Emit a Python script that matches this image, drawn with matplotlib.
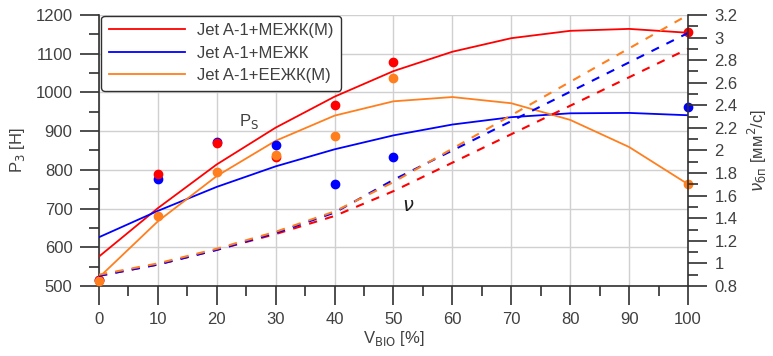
import matplotlib

matplotlib.use("Agg")
import matplotlib.pyplot as plt
from matplotlib.ticker import MultipleLocator, FuncFormatter

plt.rcParams["font.family"] = ["Liberation Sans", "DejaVu Sans"]

# measured points
x_pts = [0, 10, 20, 30, 40, 50, 100]
p_meжк_m = [515, 790, 870, 833, 967, 1079, 1156]
p_meжк = [515, 776, 873, 863, 763, 832, 963]
p_eeжк_m = [513, 681, 795, 839, 887, 1036, 763]

# trend curves (P_S)
x_curve = [0, 10, 20, 30, 40, 50, 60, 70, 80, 90, 100]
ps_meжк_m = [576, 701, 814, 909, 989, 1055, 1105, 1140, 1159, 1164, 1154]
ps_meжк = [626, 694, 756, 809, 853, 889, 917, 936, 946, 947, 941]
ps_eeжк_m = [522, 667, 784, 875, 940, 977, 988, 972, 929, 859, 763]

# viscosity (right axis)
nu_meжк_m = [0.89, 0.99, 1.12, 1.26, 1.42, 1.64, 2.90]
nu_meжк = [0.89, 0.99, 1.12, 1.27, 1.45, 1.74, 3.04]
nu_eeжк_m = [0.90, 1.00, 1.13, 1.28, 1.46, 1.72, 3.20]

labels = ["Jet A-1+МЕЖК(М)", "Jet A-1+МЕЖК", "Jet A-1+ЕЕЖК(М)"]
colors = ["#ff0000", "#0000ff", "#ff7f1e"]
text_col = "#404040"
fs = 12

fig = plt.figure(figsize=(7.73, 3.56), dpi=100)
ax = fig.add_axes([0.128, 0.1966, 0.762, 0.7614])
ax2 = ax.twinx()

handles = []
for ps, col, lab in zip([ps_meжк_m, ps_meжк, ps_eeжк_m], colors, labels):
    h, = ax.plot(x_curve, ps, color=col, lw=1.3, label=lab, zorder=3)
    handles.append(h)

for p, col in zip([p_meжк, p_meжк_m, p_eeжк_m], [colors[1], colors[0], colors[2]]):
    ax.plot(x_pts, p, "o", color=col, ms=6, zorder=4, clip_on=False)

for nu, col in zip([nu_meжк_m, nu_meжк, nu_eeжк_m], colors):
    ax2.plot(x_pts, nu, color=col, lw=1.5, ls=(0, (4, 4)))

ax.set_xlim(0, 100)
ax.set_ylim(500, 1200)
ax2.set_ylim(0.8, 3.2)

ax.xaxis.set_major_locator(MultipleLocator(10))
ax.xaxis.set_minor_locator(MultipleLocator(5))
ax.yaxis.set_major_locator(MultipleLocator(100))
ax.yaxis.set_minor_locator(MultipleLocator(50))
ax2.yaxis.set_major_locator(MultipleLocator(0.2))
ax2.yaxis.set_minor_locator(MultipleLocator(0.1))
ax2.yaxis.set_major_formatter(FuncFormatter(lambda v, _: f"{v:g}"))

ax.grid(True, which="major", color="#d0d0d0", lw=1)
ax.set_axisbelow(True)

for a in (ax, ax2):
    a.spines["top"].set_visible(False)
    for s in a.spines.values():
        s.set_color("#303030")
        s.set_linewidth(1.2)
    a.tick_params(which="major", length=14, width=1.2, color="#303030",
                  labelsize=fs, labelcolor=text_col, pad=5)
    a.tick_params(which="minor", length=7, width=1.2, color="#303030")
ax.spines["right"].set_visible(False)
ax2.spines["left"].set_visible(False)
ax2.spines["bottom"].set_visible(False)

ax.set_xlabel("V$_{\\mathrm{BIO}}$ [%]", fontsize=fs, color=text_col, labelpad=1)
ax.set_ylabel("P$_3$ [H]", fontsize=fs, color=text_col, labelpad=6)
ax2.set_ylabel("$\\nu$$_{\\mathrm{бп}}$ [мм$^2$/с]", fontsize=fs, color=text_col,
               labelpad=6, rotation=90)

ax.text(25.5, 925, "P$_\\mathrm{S}$", fontsize=fs, color=text_col, ha="center", va="center")
ax2.text(52.5, 1.5, "$\\nu$", fontsize=14, color="#202020", ha="center", va="center")

leg = ax.legend(handles=handles, loc="upper left", bbox_to_anchor=(0.004, 0.997),
                fontsize=fs, handlelength=4.6, handletextpad=0.7, labelspacing=0.45,
                borderpad=0.45, borderaxespad=0.0, fancybox=True, framealpha=1,
                edgecolor="#303030")
leg.get_frame().set_linewidth(1.0)
for t in leg.get_texts():
    t.set_color(text_col)
leg.set_zorder(10)

fig.savefig("out.png", dpi=100)
